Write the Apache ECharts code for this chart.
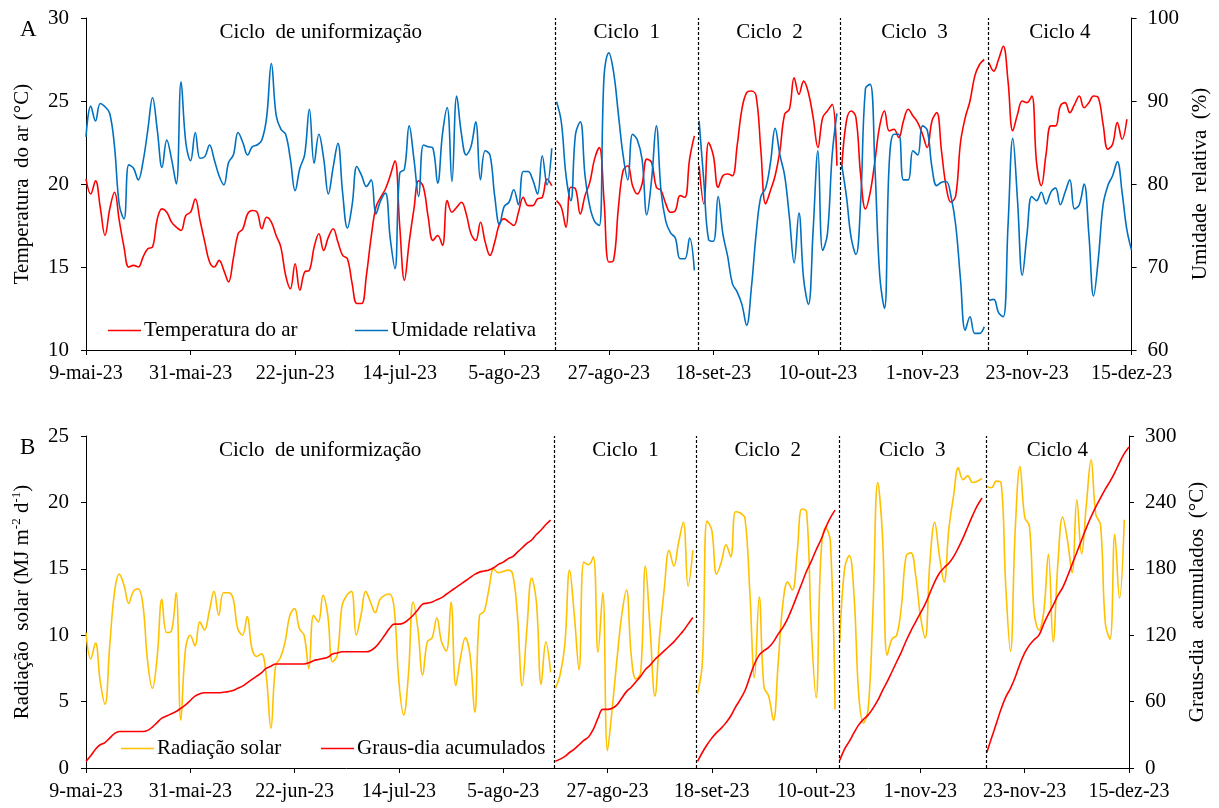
<!DOCTYPE html>
<html>
<head>
<meta charset="utf-8">
<script src="https://cdn.jsdelivr.net/npm/echarts@6/dist/echarts.min.js"></script>
<style>
html,body{margin:0;padding:0;background:#fff;}
#chart{width:1219px;height:808px;}
</style>
</head>
<body>
<div id="chart"></div>
<script>
// ---------- DATA ----------
const tickLabels = ['9-mai-23','31-mai-23','22-jun-23','14-jul-23','5-ago-23','27-ago-23','18-set-23','10-out-23','1-nov-23','23-nov-23','15-dez-23'];
const tickStep = 22;           // days between labelled ticks
const dayMax = 220;            // 9-mai-23 -> 15-dez-23
const cycleNames = ['Ciclo  de uniformização','Ciclo  1','Ciclo  2','Ciclo  3','Ciclo 4'];
const cycleStarts = [0, 99, 129, 159, 190];           // first day of each cycle (day 0 = 9-mai-23)
const cycleBoundaries = [98.8, 128.8, 158.8, 189.8];  // dashed separators (days)

// Temperatura do ar (°C), daily, per cycle
const tempUnif = [20.3,19.4,20.2,18.6,16.9,18.5,19.5,17.8,16.2,15.0,
  15.1,15.0,15.6,16.1,16.2,17.9,18.5,18.3,17.7,17.4,
  17.2,18.1,18.3,19.1,17.8,16.5,15.3,15.0,15.4,14.8,
  14.1,15.5,17.0,17.3,18.2,18.4,18.3,17.3,18.0,17.7,
  16.9,16.2,14.5,13.7,15.2,13.6,14.7,14.8,16.2,17.0,
  16.0,16.8,17.3,16.5,15.7,15.5,14.0,12.8,12.8,14.5,
  16.8,18.6,19.2,19.7,20.5,21.4,17.5,14.2,16.5,18.5,
  20.2,19.8,18.0,16.6,16.9,16.3,19.0,18.3,18.6,18.9,
  18.2,17.0,16.6,17.7,16.5,15.7,16.5,17.6,17.9,17.7,
  17.5,18.3,19.2,18.7,18.7,19.1,19.2,20.3,19.9];
const tempC1 = [19.0,18.6,17.4,19.8,19.7,18.2,19.3,20.1,21.5,22.2,
  19.0,15.3,15.4,18.5,20.8,21.1,19.9,19.4,20.0,21.5,
  21.3,19.8,19.6,18.8,18.3,18.4,19.3,19.2,21.5,22.9];
const tempC2 = [21.1,18.8,22.5,21.7,19.8,20.5,20.6,20.5,22.3,24.5,
  25.5,25.6,25.3,22.0,18.8,19.6,20.5,22.0,24.2,24.5,
  26.4,25.4,26.2,25.5,24.0,22.2,24.0,24.4,24.8,21.1];
const tempC3 = [20.9,23.8,24.4,24.0,20.5,18.5,19.5,21.4,23.5,24.4,
  23.2,23.3,22.8,23.8,24.5,24.1,23.7,23.0,22.2,23.8,
  24.3,22.0,19.8,18.9,19.3,22.5,24.0,25.0,26.5,27.2,27.5];
const tempC4 = [27.3,26.8,27.5,28.3,26.2,23.2,24.2,25.0,24.9,25.3,
  21.3,19.9,21.8,23.5,23.5,24.7,24.9,24.3,24.8,25.3,
  24.6,24.9,25.3,25.2,23.6,22.1,22.4,23.7,22.7,23.9];

// Umidade relativa (%), daily, per cycle
const rhUnif = [85.7,89.4,87.6,89.7,89.3,88.5,84.5,77.5,75.8,82.3,
  81.9,80.5,82.7,86.5,90.4,86.5,82.0,85.3,83.0,80.0,
  92.3,85.0,82.8,86.2,83.1,83.3,84.7,82.9,81.0,79.9,
  82.6,83.5,86.2,85.0,83.5,84.5,84.7,85.3,88.0,94.5,
  88.3,86.6,86.0,83.0,79.2,81.9,83.5,89.0,82.5,86.0,
  83.1,78.8,82.0,84.9,78.9,74.7,77.5,82.1,81.0,79.7,
  80.5,76.4,78.0,78.9,73.5,69.8,81.3,81.8,87.0,83.0,
  78.5,84.7,84.5,84.3,80.1,86.0,89.2,80.3,90.6,86.0,
  83.5,84.5,87.5,80.5,84.0,83.5,78.5,75.1,77.3,77.8,
  79.3,77.5,81.5,81.5,80.5,78.8,83.4,79.9,84.3];
const rhC1 = [89.9,87.5,81.0,78.0,86.0,87.5,81.0,77.3,75.5,75.0,
  93.0,95.8,93.5,88.5,83.5,80.5,86.0,85.3,83.0,76.3,
  80.5,87.0,79.1,75.5,74.1,73.5,71.0,71.0,73.5,69.6];
const rhC2 = [87.6,80.3,73.3,73.1,78.5,74.0,71.3,68.0,67.0,65.5,
  63.0,67.5,74.0,78.5,79.5,82.5,86.7,83.5,81.0,76.0,
  70.5,76.5,68.5,65.5,74.5,84.0,72.0,74.0,83.5,88.5];
const rhC3 = [82.3,78.5,73.5,71.5,78.0,91.5,92.0,82.0,69.0,65.0,
  82.5,86.0,86.0,80.5,80.5,84.0,83.5,87.0,86.5,82.0,
  79.8,80.2,80.3,78.5,75.0,68.5,62.4,64.0,62.0,62.0,62.8];
const rhC4 = [66.0,66.1,64.5,64.0,75.0,85.5,78.0,69.0,74.0,78.5,
  78.0,79.0,77.6,79.0,79.5,77.5,79.0,80.5,77.0,77.5,
  80.0,74.0,66.5,71.0,77.5,79.8,81.0,82.7,79.0,74.5,72.0];

// Radiação solar (MJ m-2 d-1), daily, per cycle
const radUnif = [10.2,8.2,9.4,6.5,4.8,9.2,13.2,14.6,13.8,12.4,
  13.3,13.5,12.3,8.0,6.0,8.3,12.7,10.2,10.3,13.2,
  3.6,9.0,10.0,9.2,11.0,10.4,11.8,13.3,11.5,13.2,
  13.2,12.8,10.5,10.0,11.4,9.0,8.4,8.6,7.0,3.0,
  7.7,8.3,9.5,11.5,12.0,10.5,10.0,7.5,11.5,11.0,
  13.0,11.5,8.0,8.5,12.2,13.0,13.3,10.0,11.5,13.3,
  12.5,11.7,12.7,13.0,13.1,12.0,6.5,4.0,7.0,12.5,
  10.5,7.0,9.5,9.8,11.3,9.5,8.8,12.5,6.2,8.3,
  9.8,8.5,4.2,11.5,11.8,13.5,15.0,14.7,14.8,14.9,
  14.6,11.5,6.2,10.5,14.3,12.5,6.3,9.5,7.2];
const radC1 = [6.0,7.0,9.3,14.9,11.5,7.4,15.5,15.3,15.9,8.7,
  13.2,1.3,4.5,8.2,11.5,13.4,8.5,6.7,7.2,15.2,
  10.4,5.4,10.0,13.6,16.4,15.2,17.0,18.5,13.7,16.4];
const radC2 = [5.6,7.9,18.6,17.9,14.6,15.5,16.8,15.9,19.3,19.2,
  18.8,13.4,6.8,12.9,6.1,5.4,3.6,7.9,12.4,14.0,
  13.4,16.2,19.5,19.3,10.4,5.3,15.9,18.1,17.1,4.4];
const radC3 = [9.5,15.0,16.0,13.0,5.5,3.4,4.5,12.0,21.5,17.5,
  8.5,9.7,10.0,12.2,16.0,16.2,14.5,11.5,9.8,15.5,
  18.5,16.0,14.0,18.0,20.5,22.6,21.7,22.0,21.5,21.6,21.8];
const radC4 = [21.2,21.1,21.6,21.5,13.7,8.8,17.9,22.7,18.9,18.2,
  11.7,10.4,11.7,16.1,9.5,15.4,18.9,17.2,14.7,20.2,
  16.1,19.8,23.2,19.1,18.3,10.9,9.7,17.6,12.8,18.7];

// Graus-dia acumulados (°C), daily, per cycle
const gddUnif = [6,11,17,21,23,27,31,33,33,33,
  33,33,33,34,37,41,45,47,49,51,
  54,57,61,65,67,68,68,68,68,68.5,
  69,70,72,74,77,80,83,86,90,92,
  94,94,94,94,94,94,94,95,97,98,
  99,100,103,104,105,105,105,105,105,105,
  106,109,114,120,126,130,130,131,134,138,
  143,148,149,150,152,154,157,160,163,166,
  169,172,175,177,178,179,181,184,186,189,
  191,195,199,203,206,211,215,220,224];
const gddC1 = [6,8,10.5,14,17,21,25,28,35,45,
  53,53,54,57,63,69,73,78,83,89,
  93,98,102,106,110,114,119,124,130,136];
const gddC2 = [6,14,21,27,32,36,41,47,55,62,
  70,82,94,102,106,109,114,121,127,135,
  145,156,167,178,187,197,206,217,226,233];
const gddC3 = [7,17,24,32,39,44,48,54,61,70,
  78,87,96,105,115,124,132,140,148,158,
  168,176,181,185,191,199,208,218,228,237,244];
const gddC4 = [14,27,40,53,64,72,82,94,104,111,
  116,120,130,139,147,156,163,173,184,195,
  206,217,227,236,244,252,259,267,276,284,290];

// ---------- BUILD ----------
function joinCycles(segments) {
  const out = [];
  segments.forEach((arr, i) => {
    const s = cycleStarts[i];
    arr.forEach((v, k) => out.push([s + k, v]));
    if (i < segments.length - 1) out.push([s + arr.length - 0.5, '-']);
  });
  return out;
}
const FONT = 'Liberation Serif';
const txt = {fontFamily: FONT, fontSize: 21, color: '#000'};

function cycleAreas() {
  const edges = [0].concat(cycleBoundaries, [dayMax]);
  return cycleNames.map((n, i) => [{xAxis: edges[i], name: n}, {xAxis: edges[i + 1]}]);
}
function marks() {
  return {
    markLine: {
      silent: true, symbol: ['none', 'none'], label: {show: false},
      lineStyle: {color: '#000', type: [3, 2], width: 1.2},
      data: cycleBoundaries.map(d => ({xAxis: d}))
    },
    markArea: {
      silent: true, itemStyle: {color: 'rgba(0,0,0,0)'},
      label: {show: true, position: 'insideTop', distance: 4, fontFamily: FONT, fontSize: 21, color: '#000'},
      data: cycleAreas()
    }
  };
}
function xAxisDef(gi) {
  return {
    gridIndex: gi, type: 'value', min: 0, max: dayMax, interval: tickStep,
    axisLine: {lineStyle: {color: '#000', width: 1}},
    axisTick: {show: true, length: 5, lineStyle: {color: '#000'}},
    axisLabel: {margin: 14, fontFamily: FONT, fontSize: 20, color: '#000',
      formatter: v => tickLabels[Math.round(v / tickStep)] || ''},
    splitLine: {show: false}
  };
}
function yAxisDef(gi, pos, min, max, interval, name, gap, extra) {
  return Object.assign({
    gridIndex: gi, type: 'value', position: pos, min, max, interval,
    name, nameLocation: 'middle', nameGap: gap, nameRotate: 90,
    nameTextStyle: Object.assign({}, txt),
    axisLine: {show: true, lineStyle: {color: '#000', width: 1}},
    axisTick: {show: true, length: 5, lineStyle: {color: '#000'}},
    axisLabel: {margin: pos === 'left' ? 17 : 16, fontFamily: FONT, fontSize: 21, color: '#000'},
    splitLine: {show: false}
  }, extra || {});
}
function lineSeries(name, xi, yi, data, color, withMarks) {
  const s = {
    name, type: 'line', xAxisIndex: xi, yAxisIndex: yi, data,
    smooth: 0.4, symbol: 'none', connectNulls: false,
    lineStyle: {color, width: 1.6}, itemStyle: {color},
    emphasis: {disabled: true}
  };
  if (withMarks) Object.assign(s, marks());
  return s;
}
function legendDef(name, left, top) {
  return {data: [{name, icon: 'rect'}], left, top, itemWidth: 33, itemHeight: 1.6, selectedMode: false,
    textStyle: {fontFamily: FONT, fontSize: 21, color: '#000', padding: [0, 0, 0, -2]}};
}

const option = {
  backgroundColor: '#fff',
  animation: false,
  title: [
    {text: 'A', left: 15, top: 13, textStyle: {fontFamily: FONT, fontSize: 23, fontWeight: 'normal', color: '#000'}},
    {text: 'B', left: 15, top: 431, textStyle: {fontFamily: FONT, fontSize: 23, fontWeight: 'normal', color: '#000'}}
  ],
  grid: [
    {left: 86, right: 84, top: 18, height: 332},
    {left: 86, right: 90, top: 436, height: 332}
  ],
  xAxis: [xAxisDef(0), xAxisDef(1)],
  yAxis: [
    yAxisDef(0, 'left', 10, 30, 5, 'Temperatura  do ar (°C)', 53),
    yAxisDef(0, 'right', 60, 100, 10, 'Umidade  relativa  (%)', 54),
    yAxisDef(1, 'left', 0, 25, 5, '{a|Radiação  solar (MJ m}{s|-2}{a| d}{s|-1}{a|)}', 52, {
      nameTextStyle: {rich: {
        a: {fontFamily: FONT, fontSize: 21, color: '#000', lineHeight: 24},
        s: {fontFamily: FONT, fontSize: 13, color: '#000', verticalAlign: 'top', lineHeight: 24}
      }}
    }),
    yAxisDef(1, 'right', 0, 300, 60, 'Graus-dia  acumulados  (°C)', 56)
  ],
  legend: [
    legendDef('Temperatura do ar', 103, 315),
    legendDef('Umidade relativa', 350, 315),
    legendDef('Radiação solar', 116, 733),
    legendDef('Graus-dia acumulados', 316, 733)
  ],
  series: [
    lineSeries('Temperatura do ar', 0, 0, joinCycles([tempUnif, tempC1, tempC2, tempC3, tempC4]), '#FF0000', true),
    lineSeries('Umidade relativa', 0, 1, joinCycles([rhUnif, rhC1, rhC2, rhC3, rhC4]), '#0070C0', false),
    lineSeries('Radiação solar', 1, 2, joinCycles([radUnif, radC1, radC2, radC3, radC4]), '#FFC000', true),
    lineSeries('Graus-dia acumulados', 1, 3, joinCycles([gddUnif, gddC1, gddC2, gddC3, gddC4]), '#FF0000', false)
  ]
};
const chart = echarts.init(document.getElementById('chart'), null, {renderer: 'canvas'});
chart.setOption(option);
</script>
</body>
</html>
